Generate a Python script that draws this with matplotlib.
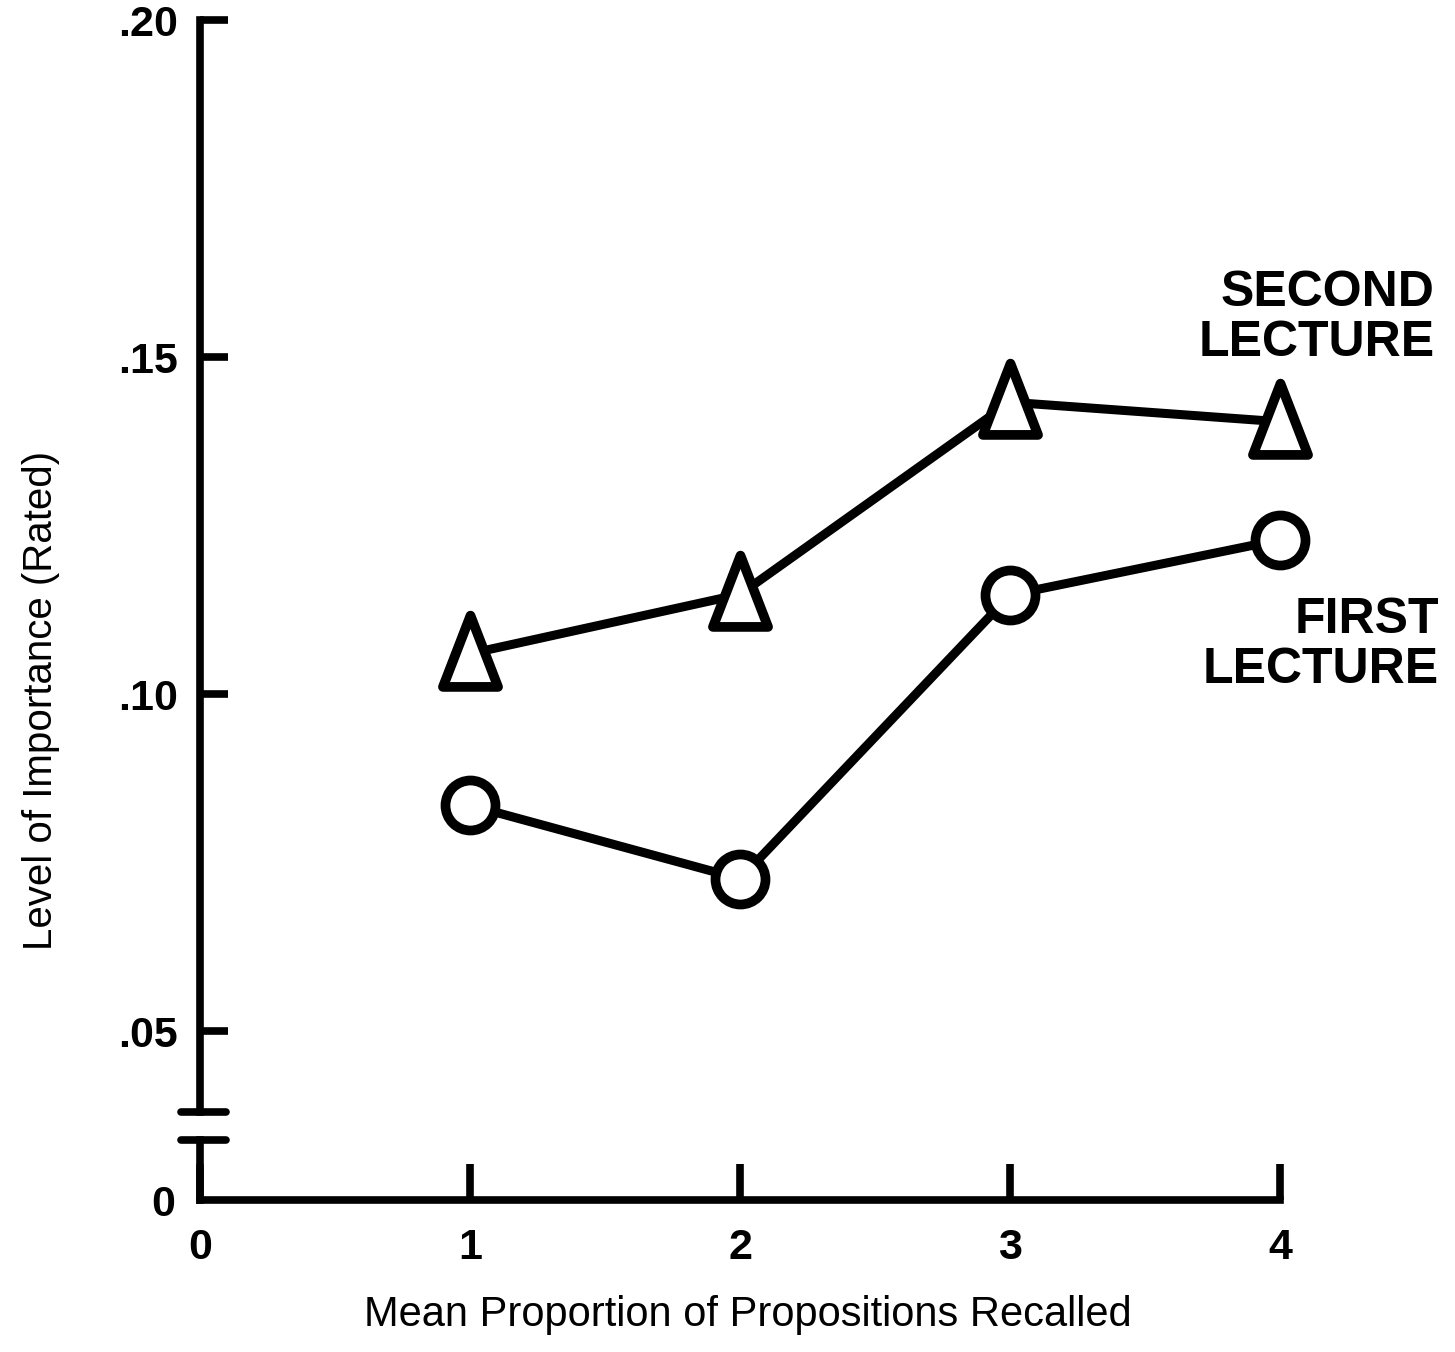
import matplotlib.pyplot as plt
from matplotlib.markers import MarkerStyle
from matplotlib.path import Path

plt.rcParams['font.family'] = ['Liberation Sans', 'DejaVu Sans']

# Data
recalled = [1, 2, 3, 4]
secondLecture = [0.106, 0.1148, 0.1433, 0.1404]
firstLecture = [0.0835, 0.0726, 0.1147, 0.1229]

yTicks = [0.05, 0.10, 0.15, 0.20]
yTickLabels = ['.05', '.10', '.15', '.20']
xTicks = [0, 1, 2, 3, 4]
xTickLabels = ['0', '1', '2', '3', '4']

lineWidth = 6.5
spineWidth = 5.5
fontSize = 31

# tall triangle with rounded corners like the hand-drawn one
trianglePath = Path([(0, 1.2), (-0.85, -1), (0.85, -1), (0, 1.2)], closed=True)
tallTriangle = MarkerStyle(trianglePath, joinstyle='round')
roundCircle = MarkerStyle('o', joinstyle='round')

fig = plt.figure(figsize=(14.55, 13.52), dpi=100)

# upper part of the broken axis
axTop = fig.add_axes([0.1375, 0.1775, 0.7423, 0.8077])
# lower part holding only the zero
axBottom = fig.add_axes([0.1375, 0.1124, 0.7423, 0.0444])

axTop.plot(recalled, secondLecture, color='black', lw=lineWidth, zorder=3,
           marker=tallTriangle, markersize=56, markerfacecolor='white',
           markeredgecolor='black', markeredgewidth=7, clip_on=False)
axTop.plot(recalled, firstLecture, color='black', lw=lineWidth, zorder=3,
           marker=roundCircle, markersize=36, markerfacecolor='white',
           markeredgecolor='black', markeredgewidth=7, clip_on=False)

axTop.set_xlim(0, 4)
axTop.set_ylim(0.038, 0.20)
axTop.set_yticks(yTicks)
axTop.set_yticklabels(yTickLabels, fontweight='bold')
axTop.set_xticks([])
for side in ('top', 'right', 'bottom'):
    axTop.spines[side].set_visible(False)
axTop.spines['left'].set_linewidth(spineWidth)
axTop.tick_params(axis='y', direction='in', length=20, width=spineWidth,
                  pad=16, labelsize=fontSize)

axBottom.set_xlim(0, 4)
axBottom.set_ylim(0, 1)
axBottom.set_yticks([0])
axBottom.set_yticklabels(['0'], fontweight='bold')
axBottom.set_xticks(xTicks)
axBottom.set_xticklabels(xTickLabels, fontweight='bold')
for side in ('top', 'right'):
    axBottom.spines[side].set_visible(False)
axBottom.spines['left'].set_linewidth(spineWidth)
axBottom.spines['bottom'].set_linewidth(spineWidth)
axBottom.tick_params(axis='y', length=0, pad=18, labelsize=fontSize)
axBottom.tick_params(axis='x', direction='in', length=26, width=spineWidth,
                     pad=20, labelsize=fontSize)

# caps on both sides of the axis break
axTop.plot([-0.018, 0.024], [0, 0], transform=axTop.transAxes,
           color='black', lw=spineWidth, clip_on=False, solid_capstyle='round')
axBottom.plot([-0.018, 0.024], [1, 1], transform=axBottom.transAxes,
              color='black', lw=spineWidth, clip_on=False, solid_capstyle='round')

fig.text(0.986, 0.765, 'SECOND\nLECTURE', ha='right', va='center',
         multialignment='right', fontsize=36, fontweight='bold', linespacing=1.1)
fig.text(0.989, 0.523, 'FIRST\nLECTURE', ha='right', va='center',
         multialignment='right', fontsize=36, fontweight='bold', linespacing=1.1)

fig.text(0.028, 0.482, 'Level of Importance (Rated)', rotation=90,
         ha='center', va='center', fontsize=29)
fig.text(0.514, 0.027, 'Mean Proportion of Propositions Recalled',
         ha='center', va='center', fontsize=30)

fig.savefig('out.png', dpi=100)
